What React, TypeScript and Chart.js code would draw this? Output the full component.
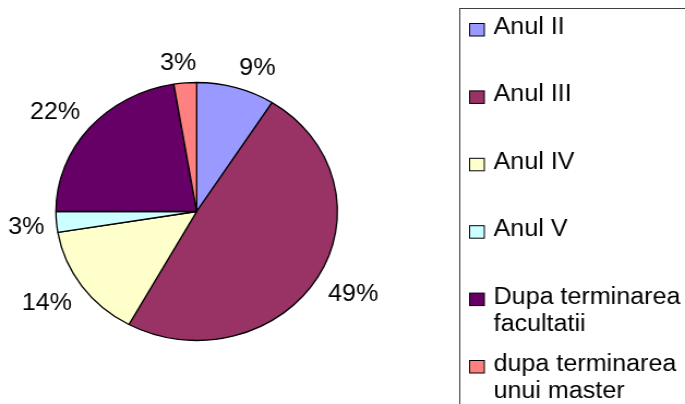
import React, { useEffect, useRef } from "react";
import { Chart, registerables } from "chart.js";

Chart.register(...registerables);

const categories = [
  "Anul II",
  "Anul III",
  "Anul IV",
  "Anul V",
  "Dupa terminarea facultatii",
  "dupa terminarea unui master",
];
const shares = [9.0, 49.0, 14.4, 2.6, 22.4, 2.6];
const sliceColors = ["#9999FF", "#993366", "#FFFFCC", "#CCFFFF", "#660066", "#FF8080"];

const STRETCH = 1.09;
const DISPLAY_W = 685;
const DISPLAY_H = 404;
const INNER_W = Math.round(DISPLAY_W / STRETCH);
const FONT = '23px "Liberation Sans", Arial, sans-serif';

const overlayPlugin = {
  id: "overlay",
  afterDraw(chart: any) {
    const ctx = chart.ctx as CanvasRenderingContext2D;
    const meta = chart.getDatasetMeta(0);
    const data = chart.data.datasets[0].data as number[];
    const labels = chart.data.labels as string[];
    const bg = chart.data.datasets[0].backgroundColor as string[];
    const total = data.reduce((a, b) => a + b, 0);
    ctx.save();
    ctx.font = FONT;
    ctx.fillStyle = "#000";
    ctx.textAlign = "center";
    ctx.textBaseline = "alphabetic";
    meta.data.forEach((arc: any, i: number) => {
      const p = arc.getProps(["x", "y", "startAngle", "endAngle", "outerRadius"], true);
      const m = (p.startAngle + p.endAngle) / 2;
      const dx = Math.cos(m);
      const dy = Math.sin(m);
      const txt = Math.round((data[i] / total) * 100) + "%";
      const w = ctx.measureText(txt).width;
      const h = 20;
      const r = p.outerRadius + 11;
      const lx = p.x + dx * r + (w / 2) * Math.sign(dx) * Math.min(1, Math.abs(dx) * 4);
      const ly = p.y + dy * r + (h / 2) * Math.sign(dy) * Math.min(1, Math.abs(dy) * 4);
      ctx.fillText(txt, lx, ly + 8);
    });

    // legend frame
    ctx.strokeStyle = "#404040";
    ctx.lineWidth = 1;
    ctx.strokeRect(421.5, 8.5, 400, 500);

    // legend entries
    ctx.textAlign = "left";
    const textX = 452.5;
    const maxW = chart.width - textX + 2;
    labels.forEach((lab, i) => {
      const base = 34 + 67.4 * i;
      ctx.fillStyle = bg[i];
      ctx.fillRect(430.5, base - 10.5, 13.5, 12.5);
      ctx.strokeStyle = "#000";
      ctx.lineWidth = 1;
      ctx.strokeRect(430.5, base - 10.5, 13.5, 12.5);
      const words = lab.split(" ");
      const lines: string[] = [];
      let cur = "";
      words.forEach((wd) => {
        const test = cur ? cur + " " + wd : wd;
        if (cur && ctx.measureText(test).width > maxW) {
          lines.push(cur);
          cur = wd;
        } else {
          cur = test;
        }
      });
      if (cur) lines.push(cur);
      ctx.fillStyle = "#000";
      lines.forEach((ln, j) => ctx.fillText(ln, textX, base + j * 27));
    });
    ctx.restore();
  },
};

export default function App() {
  const ref = useRef<HTMLCanvasElement>(null);
  useEffect(() => {
    if (!ref.current) return;
    const cx = 180.3;
    const cy = 211.5;
    const R = 129;
    const bw = 1.3;
    const half = R + bw / 2;
    const chart = new Chart(ref.current, {
      type: "pie",
      data: {
        labels: categories,
        datasets: [
          {
            data: shares,
            backgroundColor: sliceColors,
            borderColor: "#000",
            borderWidth: bw,
            hoverOffset: 0,
          },
        ],
      },
      options: {
        responsive: false,
        animation: false,
        layout: {
          padding: {
            left: cx - half,
            top: cy - half,
            right: INNER_W - (cx + half),
            bottom: DISPLAY_H - (cy + half),
          },
        },
        plugins: {
          legend: { display: false },
          tooltip: { enabled: false },
          title: { display: false },
        },
        events: [],
      },
      plugins: [overlayPlugin],
    });
    return () => chart.destroy();
  }, []);
  return (
    <div style={{ position: "fixed", left: 0, top: 0, width: DISPLAY_W, height: DISPLAY_H, background: "#fff" }}>
      <canvas
        ref={ref}
        width={INNER_W}
        height={DISPLAY_H}
        style={{ width: DISPLAY_W + "px", height: DISPLAY_H + "px", display: "block" }}
      />
    </div>
  );
}
